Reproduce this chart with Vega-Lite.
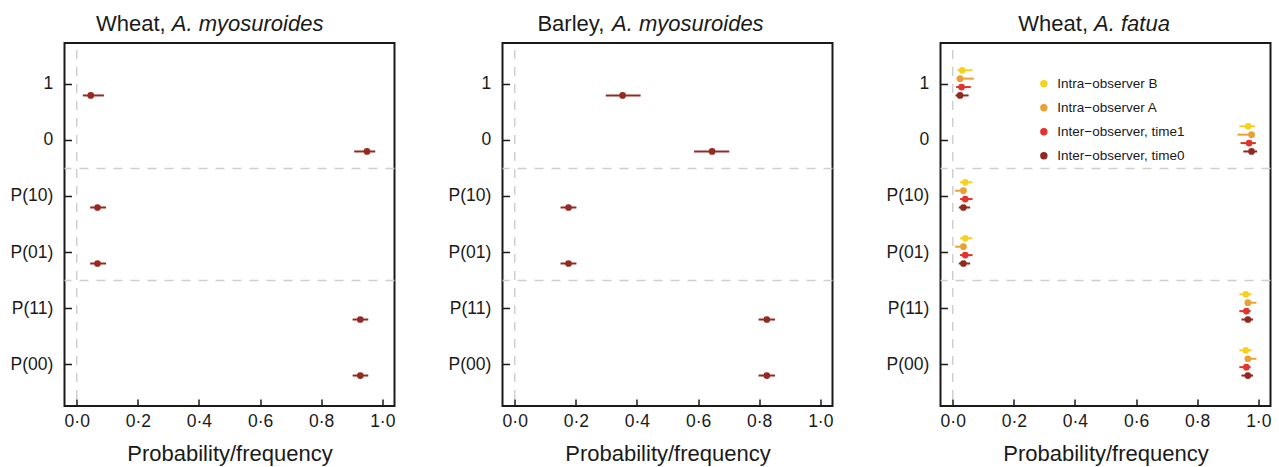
{
  "$schema": "https://vega.github.io/schema/vega-lite/v6.json",
  "background": "white",
  "padding": {"left": 8.5, "top": 11, "right": 8, "bottom": 2},
  "bounds": "flush",
  "spacing": 108,
  "config": {
    "font": "Liberation Sans",
    "view": {"stroke": "#1a1a1a", "strokeWidth": 2},
    "axis": {"domain": false, "grid": false, "labelFont": "Liberation Sans", "labelFontSize": 17.5, "labelColor": "#1a1a1a", "titleFont": "Liberation Sans", "titleFontSize": 22, "titleFontWeight": "normal", "titleColor": "#1a1a1a", "tickColor": "#1a1a1a", "tickWidth": 1.5, "tickSize": -7},
    "legend": {"labelFont": "Liberation Sans", "labelFontSize": 13.5, "labelColor": "#1a1a1a", "labelLimit": 300}
  },
  "hconcat": [
    {
      "width": 330, "height": 363,
      "data": {"values": [
        {"cat": "1", "series": "Inter−observer, time0", "p": 0.046, "lo": 0.02, "hi": 0.089},
        {"cat": "0", "series": "Inter−observer, time0", "p": 0.95, "lo": 0.908, "hi": 0.977},
        {"cat": "P(10)", "series": "Inter−observer, time0", "p": 0.068, "lo": 0.044, "hi": 0.096},
        {"cat": "P(01)", "series": "Inter−observer, time0", "p": 0.068, "lo": 0.044, "hi": 0.096},
        {"cat": "P(11)", "series": "Inter−observer, time0", "p": 0.928, "lo": 0.903, "hi": 0.954},
        {"cat": "P(00)", "series": "Inter−observer, time0", "p": 0.928, "lo": 0.903, "hi": 0.954}
      ]},
      "layer": [
        {
          "data": {"values": [{"sep": "0"}, {"sep": "P(01)"}]},
          "mark": {"type": "rule", "color": "#cfcfcf", "strokeWidth": 1.5, "strokeDash": [9, 8]},
          "encoding": {"y": {"field": "sep", "type": "nominal", "bandPosition": 1, "scale": {"type": "band", "domain": ["1", "0", "P(10)", "P(01)", "P(11)", "P(00)"], "paddingInner": 0, "paddingOuter": 0.24}, "axis": {"title": "Wheat,", "titleAngle": 0, "titleAlign": "left", "titleBaseline": "alphabetic", "titleX": 31, "titleY": -12.5, "labelPadding": 18.7, "tickSize": -7}}}
        },
        {
          "data": {"values": [{}]},
          "mark": {"type": "rule", "color": "#cfcfcf", "strokeWidth": 1.5, "strokeDash": [9, 8], "strokeDashOffset": -7},
          "encoding": {"x": {"datum": 0, "type": "quantitative", "scale": {"domain": [-0.04, 1.04], "nice": false, "zero": false}, "axis": null}}
        },
        {
          "mark": {"type": "rule", "color": "#962a22", "strokeWidth": 2},
          "encoding": {
            "x": {"field": "lo", "type": "quantitative", "scale": {"domain": [-0.04, 1.04], "nice": false, "zero": false}, "axis": {"values": [0, 0.2, 0.4, 0.6, 0.8, 1], "labelExpr": "replace(format(datum.value, '.1f'), '.', '·')", "labelFlush": false, "labelPadding": 13, "tickSize": -7, "title": "Probability/frequency", "titleX": 165, "titleY": 54, "titleAlign": "center", "titleBaseline": "alphabetic"}},
            "x2": {"field": "hi"},
            "y": {"field": "cat", "type": "nominal", "scale": {"type": "band", "domain": ["1", "0", "P(10)", "P(01)", "P(11)", "P(00)"], "paddingInner": 0, "paddingOuter": 0.24}, "axis": {"title": "Wheat,", "titleAngle": 0, "titleAlign": "left", "titleBaseline": "alphabetic", "titleX": 31, "titleY": -12.5, "labelPadding": 18.7, "tickSize": -7}},
            "yOffset": {"field": "series", "type": "nominal", "scale": {"domain": ["Intra−observer B", "Intra−observer A", "Inter−observer, time1", "Inter−observer, time0"], "range": [9.6, 43.2], "paddingInner": 0, "paddingOuter": 0}}
          }
        },
        {
          "mark": {"type": "point", "filled": true, "size": 45, "opacity": 1, "color": "#962a22"},
          "encoding": {
            "x": {"field": "p", "type": "quantitative", "scale": {"domain": [-0.04, 1.04], "nice": false, "zero": false}, "axis": {"orient": "top", "title": "A. myosuroides", "titleFontStyle": "italic", "titleX": 106.8, "titleY": -12.5, "titleAlign": "left", "titleBaseline": "alphabetic", "labels": false, "ticks": false, "domain": false}},
            "y": {"field": "cat", "type": "nominal", "scale": {"type": "band", "domain": ["1", "0", "P(10)", "P(01)", "P(11)", "P(00)"], "paddingInner": 0, "paddingOuter": 0.24}, "axis": {"title": "Wheat,", "titleAngle": 0, "titleAlign": "left", "titleBaseline": "alphabetic", "titleX": 31, "titleY": -12.5, "labelPadding": 18.7, "tickSize": -7}},
            "yOffset": {"field": "series", "type": "nominal", "scale": {"domain": ["Intra−observer B", "Intra−observer A", "Inter−observer, time1", "Inter−observer, time0"], "range": [9.6, 43.2], "paddingInner": 0, "paddingOuter": 0}}
          }
        }
      ],
      "resolve": {"axis": {"x": "independent"}}
    },
    {
      "width": 330, "height": 363,
      "data": {"values": [
        {"cat": "1", "series": "Inter−observer, time0", "p": 0.353, "lo": 0.298, "hi": 0.412},
        {"cat": "0", "series": "Inter−observer, time0", "p": 0.646, "lo": 0.587, "hi": 0.702},
        {"cat": "P(10)", "series": "Inter−observer, time0", "p": 0.176, "lo": 0.15, "hi": 0.202},
        {"cat": "P(01)", "series": "Inter−observer, time0", "p": 0.176, "lo": 0.15, "hi": 0.202},
        {"cat": "P(11)", "series": "Inter−observer, time0", "p": 0.825, "lo": 0.798, "hi": 0.852},
        {"cat": "P(00)", "series": "Inter−observer, time0", "p": 0.825, "lo": 0.798, "hi": 0.852}
      ]},
      "layer": [
        {
          "data": {"values": [{"sep": "0"}, {"sep": "P(01)"}]},
          "mark": {"type": "rule", "color": "#cfcfcf", "strokeWidth": 1.5, "strokeDash": [9, 8]},
          "encoding": {"y": {"field": "sep", "type": "nominal", "bandPosition": 1, "scale": {"type": "band", "domain": ["1", "0", "P(10)", "P(01)", "P(11)", "P(00)"], "paddingInner": 0, "paddingOuter": 0.24}, "axis": {"title": "Barley,", "titleAngle": 0, "titleAlign": "left", "titleBaseline": "alphabetic", "titleX": 34.4, "titleY": -12.5, "labelPadding": 18.7, "tickSize": -7}}}
        },
        {
          "data": {"values": [{}]},
          "mark": {"type": "rule", "color": "#cfcfcf", "strokeWidth": 1.5, "strokeDash": [9, 8], "strokeDashOffset": -7},
          "encoding": {"x": {"datum": 0, "type": "quantitative", "scale": {"domain": [-0.04, 1.04], "nice": false, "zero": false}, "axis": null}}
        },
        {
          "mark": {"type": "rule", "color": "#962a22", "strokeWidth": 2},
          "encoding": {
            "x": {"field": "lo", "type": "quantitative", "scale": {"domain": [-0.04, 1.04], "nice": false, "zero": false}, "axis": {"values": [0, 0.2, 0.4, 0.6, 0.8, 1], "labelExpr": "replace(format(datum.value, '.1f'), '.', '·')", "labelFlush": false, "labelPadding": 13, "tickSize": -7, "title": "Probability/frequency", "titleX": 165, "titleY": 54, "titleAlign": "center", "titleBaseline": "alphabetic"}},
            "x2": {"field": "hi"},
            "y": {"field": "cat", "type": "nominal", "scale": {"type": "band", "domain": ["1", "0", "P(10)", "P(01)", "P(11)", "P(00)"], "paddingInner": 0, "paddingOuter": 0.24}, "axis": {"title": "Barley,", "titleAngle": 0, "titleAlign": "left", "titleBaseline": "alphabetic", "titleX": 34.4, "titleY": -12.5, "labelPadding": 18.7, "tickSize": -7}},
            "yOffset": {"field": "series", "type": "nominal", "scale": {"domain": ["Intra−observer B", "Intra−observer A", "Inter−observer, time1", "Inter−observer, time0"], "range": [9.6, 43.2], "paddingInner": 0, "paddingOuter": 0}}
          }
        },
        {
          "mark": {"type": "point", "filled": true, "size": 45, "opacity": 1, "color": "#962a22"},
          "encoding": {
            "x": {"field": "p", "type": "quantitative", "scale": {"domain": [-0.04, 1.04], "nice": false, "zero": false}, "axis": {"orient": "top", "title": "A. myosuroides", "titleFontStyle": "italic", "titleX": 109, "titleY": -12.5, "titleAlign": "left", "titleBaseline": "alphabetic", "labels": false, "ticks": false, "domain": false}},
            "y": {"field": "cat", "type": "nominal", "scale": {"type": "band", "domain": ["1", "0", "P(10)", "P(01)", "P(11)", "P(00)"], "paddingInner": 0, "paddingOuter": 0.24}, "axis": {"title": "Barley,", "titleAngle": 0, "titleAlign": "left", "titleBaseline": "alphabetic", "titleX": 34.4, "titleY": -12.5, "labelPadding": 18.7, "tickSize": -7}},
            "yOffset": {"field": "series", "type": "nominal", "scale": {"domain": ["Intra−observer B", "Intra−observer A", "Inter−observer, time1", "Inter−observer, time0"], "range": [9.6, 43.2], "paddingInner": 0, "paddingOuter": 0}}
          }
        }
      ],
      "resolve": {"axis": {"x": "independent"}}
    },
    {
      "width": 330, "height": 363,
      "data": {"values": [
        {"cat": "1", "series": "Intra−observer B", "p": 0.031, "lo": 0.015, "hi": 0.065},
        {"cat": "1", "series": "Intra−observer A", "p": 0.024, "lo": 0.013, "hi": 0.069},
        {"cat": "1", "series": "Inter−observer, time1", "p": 0.029, "lo": 0.011, "hi": 0.059},
        {"cat": "1", "series": "Inter−observer, time0", "p": 0.024, "lo": 0.009, "hi": 0.052},
        {"cat": "0", "series": "Intra−observer B", "p": 0.967, "lo": 0.938, "hi": 0.989},
        {"cat": "0", "series": "Intra−observer A", "p": 0.978, "lo": 0.932, "hi": 0.988},
        {"cat": "0", "series": "Inter−observer, time1", "p": 0.97, "lo": 0.942, "hi": 0.992},
        {"cat": "0", "series": "Inter−observer, time0", "p": 0.978, "lo": 0.951, "hi": 0.996},
        {"cat": "P(10)", "series": "Intra−observer B", "p": 0.041, "lo": 0.024, "hi": 0.065},
        {"cat": "P(10)", "series": "Intra−observer A", "p": 0.035, "lo": 0.008, "hi": 0.045},
        {"cat": "P(10)", "series": "Inter−observer, time1", "p": 0.041, "lo": 0.024, "hi": 0.065},
        {"cat": "P(10)", "series": "Inter−observer, time0", "p": 0.035, "lo": 0.02, "hi": 0.057},
        {"cat": "P(01)", "series": "Intra−observer B", "p": 0.041, "lo": 0.024, "hi": 0.065},
        {"cat": "P(01)", "series": "Intra−observer A", "p": 0.035, "lo": 0.008, "hi": 0.045},
        {"cat": "P(01)", "series": "Inter−observer, time1", "p": 0.041, "lo": 0.024, "hi": 0.065},
        {"cat": "P(01)", "series": "Inter−observer, time0", "p": 0.035, "lo": 0.02, "hi": 0.057},
        {"cat": "P(11)", "series": "Intra−observer B", "p": 0.959, "lo": 0.938, "hi": 0.978},
        {"cat": "P(11)", "series": "Intra−observer A", "p": 0.966, "lo": 0.956, "hi": 0.994},
        {"cat": "P(11)", "series": "Inter−observer, time1", "p": 0.961, "lo": 0.938, "hi": 0.975},
        {"cat": "P(11)", "series": "Inter−observer, time0", "p": 0.966, "lo": 0.945, "hi": 0.983},
        {"cat": "P(00)", "series": "Intra−observer B", "p": 0.959, "lo": 0.938, "hi": 0.978},
        {"cat": "P(00)", "series": "Intra−observer A", "p": 0.966, "lo": 0.956, "hi": 0.994},
        {"cat": "P(00)", "series": "Inter−observer, time1", "p": 0.961, "lo": 0.938, "hi": 0.975},
        {"cat": "P(00)", "series": "Inter−observer, time0", "p": 0.966, "lo": 0.945, "hi": 0.983}
      ]},
      "layer": [
        {
          "data": {"values": [{"sep": "0"}, {"sep": "P(01)"}]},
          "mark": {"type": "rule", "color": "#cfcfcf", "strokeWidth": 1.5, "strokeDash": [9, 8]},
          "encoding": {"y": {"field": "sep", "type": "nominal", "bandPosition": 1, "scale": {"type": "band", "domain": ["1", "0", "P(10)", "P(01)", "P(11)", "P(00)"], "paddingInner": 0, "paddingOuter": 0.24}, "axis": {"title": "Wheat,", "titleAngle": 0, "titleAlign": "left", "titleBaseline": "alphabetic", "titleX": 77.3, "titleY": -12.5, "labelPadding": 18.7, "tickSize": -7}}}
        },
        {
          "data": {"values": [{}]},
          "mark": {"type": "rule", "color": "#cfcfcf", "strokeWidth": 1.5, "strokeDash": [9, 8], "strokeDashOffset": -7},
          "encoding": {"x": {"datum": 0, "type": "quantitative", "scale": {"domain": [-0.04, 1.04], "nice": false, "zero": false}, "axis": null}}
        },
        {
          "mark": {"type": "rule", "strokeWidth": 2},
          "encoding": {
            "x": {"field": "lo", "type": "quantitative", "scale": {"domain": [-0.04, 1.04], "nice": false, "zero": false}, "axis": {"values": [0, 0.2, 0.4, 0.6, 0.8, 1], "labelExpr": "replace(format(datum.value, '.1f'), '.', '·')", "labelFlush": false, "labelPadding": 13, "tickSize": -7, "title": "Probability/frequency", "titleX": 165, "titleY": 54, "titleAlign": "center", "titleBaseline": "alphabetic"}},
            "x2": {"field": "hi"},
            "y": {"field": "cat", "type": "nominal", "scale": {"type": "band", "domain": ["1", "0", "P(10)", "P(01)", "P(11)", "P(00)"], "paddingInner": 0, "paddingOuter": 0.24}, "axis": {"title": "Wheat,", "titleAngle": 0, "titleAlign": "left", "titleBaseline": "alphabetic", "titleX": 77.3, "titleY": -12.5, "labelPadding": 18.7, "tickSize": -7}},
            "yOffset": {"field": "series", "type": "nominal", "scale": {"domain": ["Intra−observer B", "Intra−observer A", "Inter−observer, time1", "Inter−observer, time0"], "range": [9.6, 43.2], "paddingInner": 0, "paddingOuter": 0}},
            "color": {"field": "series", "type": "nominal", "scale": {"domain": ["Intra−observer B", "Intra−observer A", "Inter−observer, time1", "Inter−observer, time0"], "range": ["#f7d21c", "#eba033", "#e2342a", "#92281f"]}, "legend": null}
          }
        },
        {
          "mark": {"type": "point", "filled": true, "size": 45, "opacity": 1},
          "encoding": {
            "x": {"field": "p", "type": "quantitative", "scale": {"domain": [-0.04, 1.04], "nice": false, "zero": false}, "axis": {"orient": "top", "title": "A. fatua", "titleFontStyle": "italic", "titleX": 153.1, "titleY": -12.5, "titleAlign": "left", "titleBaseline": "alphabetic", "labels": false, "ticks": false, "domain": false}},
            "y": {"field": "cat", "type": "nominal", "scale": {"type": "band", "domain": ["1", "0", "P(10)", "P(01)", "P(11)", "P(00)"], "paddingInner": 0, "paddingOuter": 0.24}, "axis": {"title": "Wheat,", "titleAngle": 0, "titleAlign": "left", "titleBaseline": "alphabetic", "titleX": 77.3, "titleY": -12.5, "labelPadding": 18.7, "tickSize": -7}},
            "yOffset": {"field": "series", "type": "nominal", "scale": {"domain": ["Intra−observer B", "Intra−observer A", "Inter−observer, time1", "Inter−observer, time0"], "range": [9.6, 43.2], "paddingInner": 0, "paddingOuter": 0}},
            "color": {"field": "series", "type": "nominal", "scale": {"domain": ["Intra−observer B", "Intra−observer A", "Inter−observer, time1", "Inter−observer, time0"], "range": ["#f7d21c", "#eba033", "#e2342a", "#92281f"]}, "legend": {"orient": "none", "legendX": 96.6, "legendY": 34, "title": null, "symbolType": "circle", "symbolSize": 55, "symbolStrokeWidth": 0, "labelFont": "Liberation Sans", "labelFontSize": 13.5, "labelColor": "#1a1a1a", "labelOffset": 6.7, "rowPadding": 9, "padding": 0}}
          }
        }
      ],
      "resolve": {"axis": {"x": "independent"}, "legend": {"color": "independent"}}
    }
  ]
}
